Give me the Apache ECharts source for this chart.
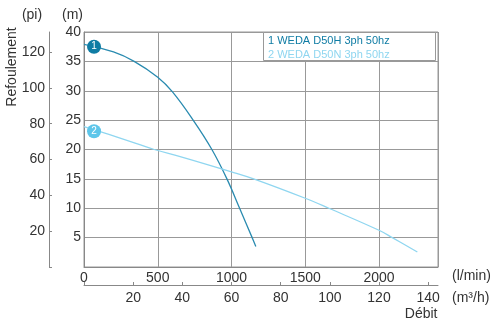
<!DOCTYPE html>
<html><head><meta charset="utf-8">
<script src="https://cdn.jsdelivr.net/npm/echarts@6/dist/echarts.min.js"></script>
<style>html,body{margin:0;padding:0;background:#fff}#c{width:496px;height:330px}</style>
</head><body><div id="c"></div>
<script>
// Axis ticks
const flowTicksLmin = [0, 500, 1000, 1500, 2000];
const flowTicksM3h = [20, 40, 60, 80, 100, 120, 140];
const headTicksM = [5, 10, 15, 20, 25, 30, 35, 40];
const headTicksPi = [20, 40, 60, 80, 100, 120];

// Series (flow in l/min, head in m)
const series1Name = '1 WEDA D50H 3ph 50hz';
const series2Name = '2 WEDA D50N 3ph 50hz';
const s1Flow = [0, 200, 340, 500, 600, 740, 867, 969, 1055, 1140, 1165];
const s1Head = [37.9, 36.6, 35.0, 32.3, 29.8, 25.0, 20.0, 15.0, 10.0, 5.0, 3.5];
const s2Flow = [0, 250, 476, 652, 1000, 1150, 1500, 1660, 2000, 2090, 2260];
const s2Head = [23.9, 21.9, 20.0, 18.8, 16.2, 15.0, 11.7, 10.0, 6.25, 5.0, 2.55];
const marker1 = [68, 37.5];
const marker2 = [68, 23.1];

const FONT = 'Liberation Sans, Arial, Helvetica, sans-serif';
const TXT = '#333';
const AX = '#888';
const GRIDC = '#999';
const c1Line = '#2a8bb0', c1Mark = '#0f7ca4';
const c2Line = '#8fd6f0', c2Mark = '#5dc6ea';

const zip = (a, b) => a.map((v, i) => [v, b[i]]);
const chart = echarts.init(document.getElementById('c'), null, {renderer: 'canvas'});
chart.setOption({
  animation: false,
  backgroundColor: '#fff',
  textStyle: {fontFamily: FONT},
  grid: {left: 84, right: 58, top: 32, bottom: 63, show: true, borderColor: GRIDC, borderWidth: 1, containLabel: false},
  xAxis: [
    {type: 'value', min: 0, max: 2400, interval: 500, position: 'bottom',
     axisLine: {show: true, lineStyle: {color: AX}}, axisTick: {show: false},
     axisLabel: {margin: 4, fontSize: 14, color: TXT, fontFamily: FONT, showMaxLabel: false,
       formatter: v => flowTicksLmin.includes(v) ? String(v) : ''},
     splitLine: {show: true, lineStyle: {color: GRIDC, width: 1}}},
    {type: 'value', min: 0, max: 144, interval: 20, position: 'bottom', offset: 18,
     axisLine: {show: true, onZero: false, lineStyle: {color: AX}},
     axisTick: {show: true, inside: true, length: 3, lineStyle: {color: AX}},
     axisLabel: {margin: 6, fontSize: 14, color: TXT, fontFamily: FONT, showMaxLabel: false,
       formatter: v => flowTicksM3h.includes(v) ? String(v) : ''},
     splitLine: {show: false}}
  ],
  yAxis: [
    {type: 'value', min: 0, max: 40, interval: 5, position: 'left',
     axisLine: {show: true, onZero: false, lineStyle: {color: AX}}, axisTick: {show: false},
     axisLabel: {margin: 3, fontSize: 14, color: TXT, fontFamily: FONT,
       formatter: v => headTicksM.includes(v) ? String(v) : ''},
     splitLine: {show: true, lineStyle: {color: GRIDC, width: 1}}},
    {type: 'value', min: 0, max: 40 * 3.28084, interval: 20, position: 'left', offset: 35,
     axisLine: {show: true, onZero: false, lineStyle: {color: AX}},
     axisTick: {show: true, inside: true, length: 3, lineStyle: {color: AX}},
     axisLabel: {margin: 4, fontSize: 14, color: TXT, fontFamily: FONT, showMaxLabel: false,
       formatter: v => headTicksPi.includes(v) ? String(v) : ''},
     splitLine: {show: false}}
  ],
  series: [
    {name: series1Name, type: 'line', xAxisIndex: 0, yAxisIndex: 0, smooth: 0.4, showSymbol: false, symbol: 'none',
     lineStyle: {color: c1Line, width: 1.3}, data: zip(s1Flow, s1Head), z: 3},
    {name: series2Name, type: 'line', xAxisIndex: 0, yAxisIndex: 0, smooth: 0.4, showSymbol: false, symbol: 'none',
     lineStyle: {color: c2Line, width: 1.3}, data: zip(s2Flow, s2Head), z: 3},
    {type: 'scatter', xAxisIndex: 0, yAxisIndex: 0, symbolSize: 14, data: [marker1],
     itemStyle: {color: c1Mark, opacity: 1}, z: 5,
     label: {show: true, position: 'inside', formatter: '1', color: '#fff', fontSize: 10, fontFamily: FONT}},
    {type: 'scatter', xAxisIndex: 0, yAxisIndex: 0, symbolSize: 14, data: [marker2],
     itemStyle: {color: c2Mark, opacity: 1}, z: 5,
     label: {show: true, position: 'inside', formatter: '2', color: '#fff', fontSize: 10, fontFamily: FONT}}
  ],
  graphic: [
    {type: 'rect', z: 100, shape: {x: 263.5, y: 32.5, width: 172, height: 28}, style: {fill: '#fff', stroke: GRIDC, lineWidth: 1}},
    {type: 'text', z: 101, x: 268, y: 41, style: {text: series1Name, fill: c1Mark, font: '11px ' + FONT, textVerticalAlign: 'middle', verticalAlign: 'middle'}},
    {type: 'text', z: 101, x: 268, y: 55, style: {text: series2Name, fill: c2Line, font: '11px ' + FONT, textVerticalAlign: 'middle', verticalAlign: 'middle'}},
    {type: 'text', z: 101, x: 32, y: 15.5, style: {text: '(pi)', fill: TXT, font: '14px ' + FONT, align: 'center', verticalAlign: 'middle'}},
    {type: 'text', z: 101, x: 72.5, y: 15.5, style: {text: '(m)', fill: TXT, font: '14px ' + FONT, align: 'center', verticalAlign: 'middle'}},
    {type: 'text', z: 101, x: 12, y: 67, rotation: Math.PI / 2, style: {text: 'Refoulement', fill: TXT, font: '14px ' + FONT, align: 'center', verticalAlign: 'middle'}},
    {type: 'text', z: 101, x: 452, y: 276, style: {text: '(l/min)', fill: TXT, font: '14px ' + FONT, align: 'left', verticalAlign: 'middle'}},
    {type: 'text', z: 101, x: 452, y: 298, style: {text: '(m³/h)', fill: TXT, font: '14px ' + FONT, align: 'left', verticalAlign: 'middle'}},
    {type: 'text', z: 101, x: 437.5, y: 314.5, style: {text: 'Débit', fill: TXT, font: '14px ' + FONT, align: 'right', verticalAlign: 'middle'}}
  ]
});
</script>
</body></html>
